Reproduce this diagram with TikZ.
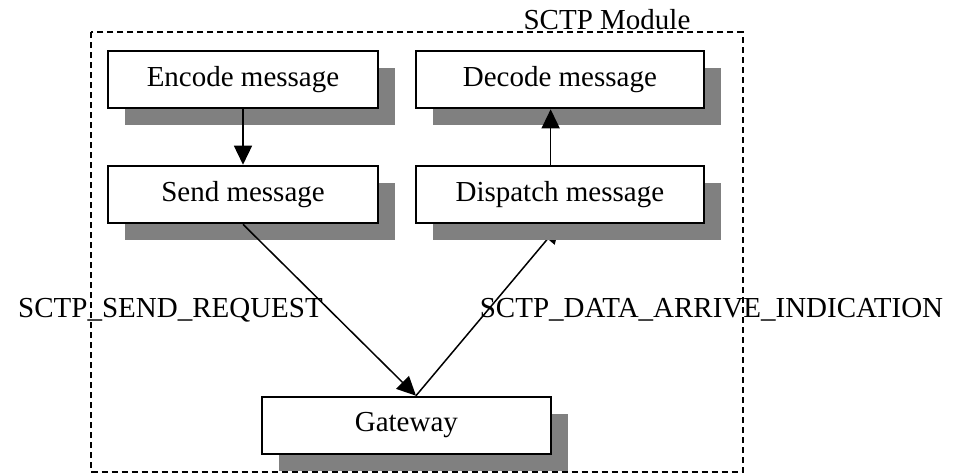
\documentclass[tikz,border=0pt]{standalone}
\usepackage{fontspec}
\setmainfont{Liberation Serif}
\usetikzlibrary{arrows.meta,shadows,backgrounds,calc}
\tikzset{
  boxnode/.style={draw=black,line width=1pt,fill=white,rectangle,inner sep=0pt,
    minimum height=28.8pt,font=\fontsize{14.5}{17}\selectfont,
    drop shadow={shadow xshift=8.5pt,shadow yshift=-8.5pt,fill=black!50,opacity=1}},
  conn/.style={line width=0.75pt,-{Triangle[length=9.5pt,width=9pt]}},
  lbl/.style={font=\fontsize{14.5}{17}\selectfont,inner sep=0pt,anchor=base},
  frame/.style={line width=1pt,dash pattern=on 3pt off 2pt}
}
\begin{document}
\begin{tikzpicture}[x=0.5pt,y=-0.5pt]
\useasboundingbox (0,0) rectangle (955,473);
\draw[frame] (90.7,32.3) rectangle (742.8,471.5);
\node[lbl] (mod) at (607,29) {SCTP Module};
\node[boxnode,minimum width=134.7pt] (enc) at (243,79.5) {Encode message};
\node[boxnode,minimum width=134.7pt] (snd) at (243,194.5) {Send message};
\node[boxnode,minimum width=144.15pt] (dec) at (559.85,79.5) {Decode message};
\node[boxnode,minimum width=144.15pt] (dsp) at (559.85,194.5) {Dispatch message};
\node[boxnode,minimum width=144.65pt] (gw) at (406.35,425.5) {Gateway};
\coordinate (meet) at ($(gw.north)+(9.65,0)$);
\begin{scope}[on background layer]
\draw[conn] (meet) -- (dsp.south);
\end{scope}
\draw[conn] (enc.south) -- (snd.north);
\draw[conn] ([xshift=-4.6pt]dsp.north) -- ([xshift=-4.6pt]dec.south);
\draw[conn] (snd.south) -- (meet);
\node[lbl] (req) at (170.5,317) {SCTP\_SEND\_REQUEST};
\node[lbl] (ind) at (711.5,317) {SCTP\_DATA\_ARRIVE\_INDICATION};
\end{tikzpicture}
\end{document}
